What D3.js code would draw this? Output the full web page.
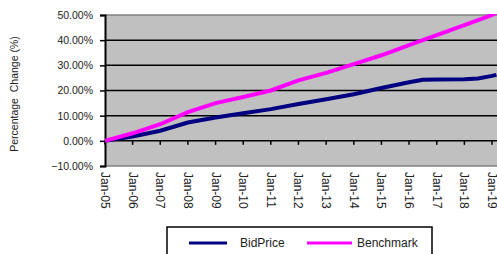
<!DOCTYPE html>
<html>
<head>
<meta charset="utf-8">
<script src="https://cdn.jsdelivr.net/npm/d3@7"></script>
<style>
  body { margin: 0; background: #fff; }
  svg { display: block; font-family: "Liberation Sans", Arial, sans-serif; }
</style>
</head>
<body>
<svg id="chart" width="497" height="254"></svg>
<script>
// values (percentage change)
const dates = ['2005-01', '2006-01', '2007-01', '2008-01', '2009-01', '2010-01', '2011-01',
  '2012-01', '2013-01', '2014-01', '2015-01', '2016-01', '2016-07', '2017-01', '2018-01',
  '2018-07', '2019-01', '2019-03'];
const bidPrice = [0, 1.7, 4, 7.3, 9.3, 11, 12.6, 14.6, 16.5, 18.5, 21, 23.3, 24.3, 24.4, 24.5, 24.8, 25.8, 26.2];
const benchmark = [0, 3, 6.6, 11.4, 15, 17.4, 20, 24, 27, 30.5, 34, 38, 40, 42, 46, 48, 50, 51];
const yTicks = [-10, 0, 10, 20, 30, 40, 50];
const seriesNames = ['BidPrice', 'Benchmark'];
const seriesColors = ['#000080', '#ff00ff'];

(function () {
  const svg = d3.select('#chart');
  const parse = d3.timeParse('%Y-%m');
  const left = 105, top = 15, bottom = 166;

  const x = d3.scaleTime()
    .domain([parse('2005-01'), parse('2019-01')])
    .range([left, 492]);
  const y = d3.scaleLinear().domain([-10, 50]).range([bottom, top]);

  // plot area
  svg.append('rect')
    .attr('x', left).attr('y', top)
    .attr('width', 497 - left + 5).attr('height', bottom - top)
    .attr('fill', '#c0c0c0');

  svg.append('clipPath').attr('id', 'clip')
    .append('rect')
    .attr('x', left).attr('y', top - 1)
    .attr('width', 500).attr('height', bottom - top + 1);

  // gridlines
  svg.append('g')
    .selectAll('line')
    .data(yTicks.filter(d => d > -10 && d < 50))
    .join('line')
    .attr('x1', left).attr('x2', 500)
    .attr('y1', d => y(d)).attr('y2', d => y(d))
    .attr('stroke', '#000').attr('stroke-width', 1.5);

  // border top / bottom
  svg.append('g')
    .selectAll('line')
    .data([50, -10])
    .join('line')
    .attr('x1', left).attr('x2', 500)
    .attr('y1', d => y(d)).attr('y2', d => y(d))
    .attr('stroke', '#808080').attr('stroke-width', 1.5);

  // y axis
  const yAxis = svg.append('g')
    .attr('transform', `translate(${left},0)`)
    .call(d3.axisLeft(y).tickValues(yTicks).tickSize(5).tickPadding(7)
      .tickFormat(d => d3.format('.2f')(d) + '%'));
  yAxis.select('.domain').attr('stroke', '#000').attr('stroke-width', 2);
  yAxis.selectAll('.tick line').attr('stroke', '#000').attr('stroke-width', 1.5);
  yAxis.selectAll('.tick text')
    .attr('font-size', 10.5).attr('fill', '#222')
    .attr('font-family', '"Liberation Sans", Arial, sans-serif');

  // x ticks on the zero line
  const years = x.ticks(d3.timeYear.every(1));
  svg.append('g')
    .selectAll('line')
    .data(years)
    .join('line')
    .attr('x1', d => x(d)).attr('x2', d => x(d))
    .attr('y1', y(0)).attr('y2', y(0) + 4)
    .attr('stroke', '#000').attr('stroke-width', 1.5);

  // x labels at the bottom, rotated
  svg.append('g')
    .selectAll('text')
    .data(years)
    .join('text')
    .attr('transform', d => `translate(${x(d) - 4},${bottom + 6}) rotate(90)`)
    .attr('font-size', 12).attr('fill', '#222')
    .text(d => d3.timeFormat('%b-%y')(d));

  // lines
  const lineGen = d3.line()
    .x((d, i) => x(parse(dates[i])))
    .y(d => y(d));

  const lines = svg.append('g').attr('clip-path', 'url(#clip)');
  [bidPrice, benchmark].forEach((vals, k) => {
    lines.append('path')
      .datum(vals)
      .attr('d', lineGen)
      .attr('fill', 'none')
      .attr('stroke', seriesColors[k])
      .attr('stroke-width', 4);
  });

  // y axis title
  svg.append('text')
    .attr('transform', 'translate(18,94) rotate(-90)')
    .attr('text-anchor', 'middle')
    .attr('font-size', 10.5).attr('fill', '#222')
    .attr('xml:space', 'preserve')
    .style('white-space', 'pre')
    .text('Percentage  Change (%)');

  // legend
  svg.append('rect')
    .attr('x', 167).attr('y', 227)
    .attr('width', 265).attr('height', 40)
    .attr('fill', '#fff').attr('stroke', '#000').attr('stroke-width', 1.5);

  const legendX = [189, 307];
  const leg = svg.append('g')
    .selectAll('g')
    .data(seriesNames)
    .join('g')
    .attr('transform', (d, i) => `translate(${legendX[i]},243)`);
  leg.append('line')
    .attr('x1', 0).attr('x2', (d, i) => i === 0 ? 38 : 45)
    .attr('stroke', (d, i) => seriesColors[i]).attr('stroke-width', 3);
  leg.append('text')
    .attr('x', (d, i) => i === 0 ? 51 : 50)
    .attr('dy', '0.35em')
    .attr('font-size', 12).attr('fill', '#222')
    .text(d => d);
})();
</script>
</body>
</html>
